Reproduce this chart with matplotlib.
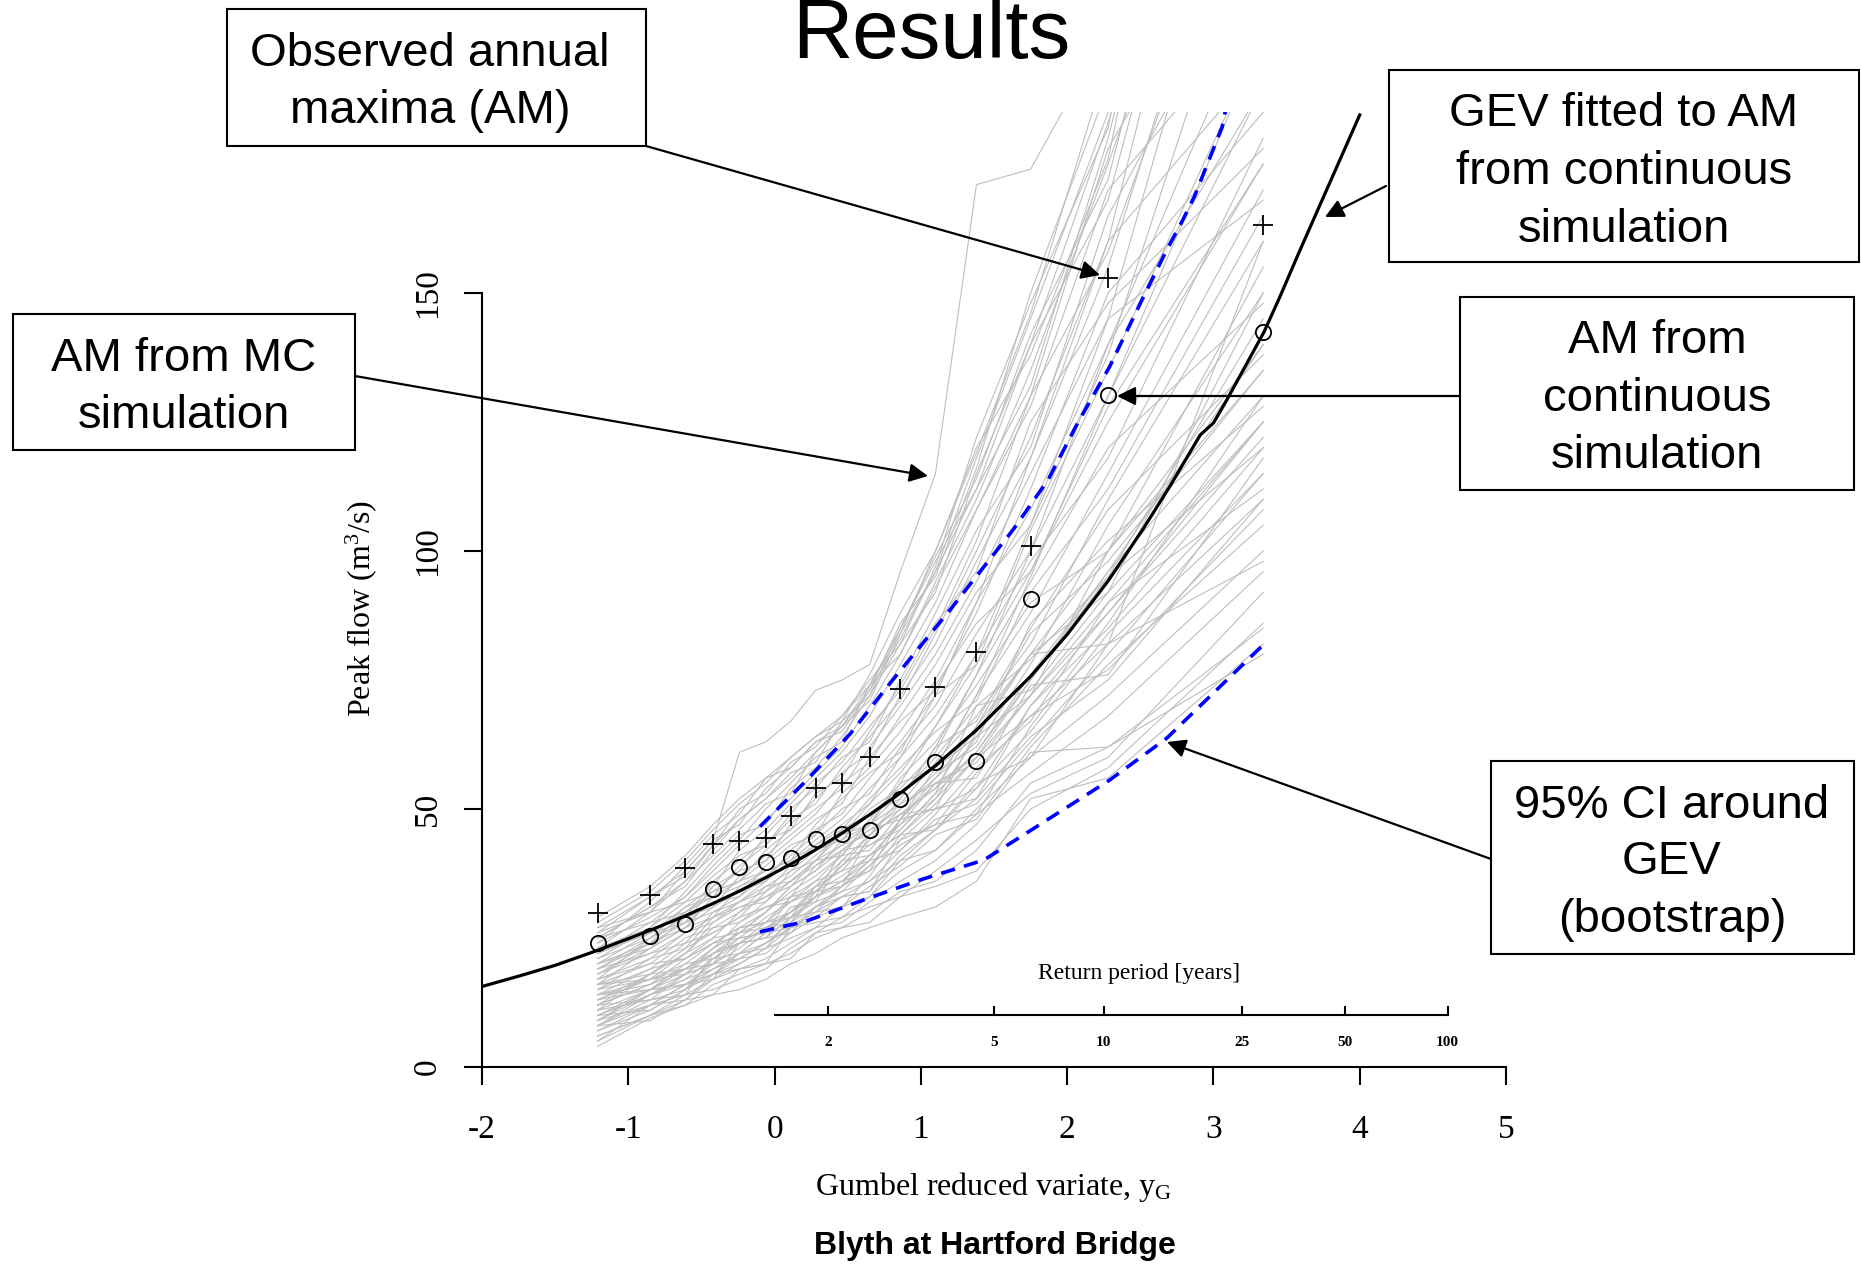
import numpy as np
import matplotlib.pyplot as plt
from matplotlib.patches import Rectangle

plt.rcParams['axes.unicode_minus'] = False

W, H = 1861, 1265

# Gumbel reduced variate of the 16 plotting positions
y_g = [-1.21, -0.85, -0.61, -0.42, -0.24, -0.06, 0.11, 0.28, 0.46, 0.65,
       0.86, 1.10, 1.38, 1.75, 2.28, 3.34]

# annual maxima (m3/s)
am_observed = [29.8, 33.3, 38.6, 43.2, 43.8, 44.3, 48.6, 54.1, 55.0, 60.0,
               73.3, 73.7, 80.5, 101.0, 153.0, 163.2]
am_continuous = [24.0, 25.3, 27.7, 34.4, 38.8, 39.8, 40.6, 44.2, 45.2, 45.9,
                 51.9, 59.2, 59.3, 90.7, 130.2, 142.4]

# GEV fitted to AM from continuous simulation
gev_x = [-2.0, -1.75, -1.5, -1.21, -0.85, -0.61, -0.42, -0.24, -0.06, 0.11,
         0.28, 0.46, 0.65, 0.86, 1.10, 1.38, 1.75, 2.00, 2.28, 2.52, 2.71,
         2.91, 3.00, 3.09, 3.345, 3.455, 3.584, 4.0]
gev_q = [15.6, 17.6, 19.7, 22.6, 26.5, 29.3, 31.7, 34.1, 36.7, 39.3,
         42.1, 45.3, 48.9, 53.1, 58.4, 65.3, 75.7, 83.8, 94.2, 104.3, 112.9,
         122.5, 124.8, 129.2, 142.4, 149.3, 157.8, 184.5]

# 95% bootstrap CI
ci_up_x = [-0.10, 0.22, 0.515, 0.79, 1.20, 1.36, 1.63, 1.87, 2.07, 2.29,
           2.50, 2.68, 2.79, 2.87, 3.06, 3.10]
ci_up = [46.6, 55.6, 64.5, 74.4, 88.6, 94.4, 104.1, 113.8, 124.7, 135.7,
         148.0, 158.3, 164.1, 168.7, 182.2, 188.0]
ci_lo_x = [-0.10, 0.21, 0.61, 1.00, 1.43, 1.77, 2.29, 2.68, 2.84, 3.34]
ci_lo = [26.2, 28.2, 32.4, 36.3, 40.1, 46.2, 55.6, 63.7, 68.1, 81.8]

# sorted AM of the MC simulation runs
mc_runs = [
    [4, 9.5, 12, 14, 15, 17, 20, 22, 25, 27, 29, 31, 36, 52, 56, 82],
    [5, 12, 13, 14, 19, 20, 21, 26, 27, 28, 33, 35, 38, 50, 58, 86],
    [6, 10, 12, 16, 18, 20, 22, 25, 27, 30, 34, 36, 42, 55, 62, 80],
    [7, 12, 14, 15, 17, 19, 23, 26, 29, 31, 33, 38, 44, 53, 60, 92],
    [5, 10, 14, 17, 19, 21, 24, 27, 28, 32, 36, 40, 47, 61, 62, 85],
    [8, 9, 13, 18, 19, 20, 27, 28, 29, 33, 40, 42, 49, 57, 68, 96],
    [8, 13, 15, 18, 20, 23, 25, 27, 31, 33, 38, 42, 50, 60, 72, 100],
    [9, 12, 16, 18, 21, 22, 26, 29, 31, 35, 39, 45, 48, 62, 78, 105],
    [9, 14, 17, 19, 22, 24, 27, 29, 33, 34, 41, 46, 52, 64, 75, 110],
    [10, 11, 15, 21, 22, 23, 29, 30, 31, 37, 45, 46, 55, 60, 82, 98],
    [10, 14, 18, 20, 21, 24, 28, 31, 34, 36, 42, 48, 51, 63, 80, 115],
    [11, 15, 16, 18, 22, 26, 27, 30, 35, 38, 43, 47, 57, 68, 77, 108],
    [8, 14, 17, 21, 24, 25, 29, 32, 34, 39, 44, 50, 54, 70, 85, 120],
    [11, 13, 18, 20, 23, 27, 30, 33, 36, 40, 42, 49, 58, 67, 90, 112],
    [9, 15, 19, 22, 25, 26, 28, 34, 37, 41, 45, 52, 60, 72, 88, 125],
    [12, 13, 14, 22, 24, 25, 31, 32, 40, 41, 47, 55, 56, 74, 76, 118],
    [12, 16, 19, 22, 24, 27, 29, 33, 35, 39, 46, 53, 61, 76, 96, 130],
    [13, 15, 18, 23, 26, 28, 30, 35, 38, 40, 48, 55, 59, 72, 100, 140],
    [13, 17, 20, 21, 25, 29, 32, 34, 39, 43, 47, 52, 64, 80, 92, 125],
    [14, 16, 21, 24, 27, 28, 33, 36, 38, 44, 50, 57, 62, 78, 105, 150],
    [12, 18, 22, 25, 26, 30, 34, 37, 41, 42, 49, 54, 66, 84, 98, 135],
    [14, 17, 19, 23, 28, 31, 32, 35, 40, 45, 51, 59, 68, 82, 110, 160],
    [15, 19, 21, 24, 27, 30, 35, 38, 42, 46, 48, 56, 63, 86, 102, 128],
    [13, 18, 23, 26, 29, 31, 33, 39, 43, 47, 53, 60, 70, 79, 95, 145],
    [15, 17, 22, 27, 28, 32, 36, 40, 41, 48, 55, 58, 72, 88, 115, 170],
    [16, 20, 21, 25, 30, 33, 35, 38, 44, 49, 52, 62, 67, 85, 108, 138],
    [14, 19, 24, 26, 29, 34, 37, 41, 45, 47, 56, 63, 74, 90, 100, 155],
    [16, 18, 22, 28, 31, 32, 38, 42, 44, 50, 54, 61, 76, 94, 120, 148],
    [17, 20, 25, 27, 30, 35, 36, 40, 46, 52, 58, 65, 71, 92, 112, 165],
    [15, 21, 23, 29, 32, 34, 39, 43, 47, 51, 57, 66, 78, 96, 125, 175],
    [17, 21, 26, 28, 32, 36, 40, 44, 48, 54, 60, 68, 80, 98, 118, 180],
    [18, 22, 24, 30, 33, 37, 41, 45, 50, 53, 62, 70, 84, 100, 130, 190],
    [16, 23, 27, 31, 34, 36, 42, 46, 49, 56, 63, 72, 78, 104, 135, 200],
    [19, 22, 26, 29, 35, 38, 40, 47, 52, 57, 61, 74, 86, 96, 128, 175],
    [18, 24, 28, 32, 33, 39, 43, 45, 53, 58, 65, 75, 90, 108, 140, 210],
    [20, 23, 27, 33, 36, 40, 44, 48, 51, 60, 67, 73, 88, 112, 150, 185],
    [17, 25, 29, 31, 37, 41, 45, 49, 55, 59, 68, 78, 92, 105, 138, 230],
    [19, 24, 30, 34, 36, 42, 46, 50, 54, 62, 70, 80, 94, 115, 145, 168],
    [21, 25, 28, 35, 38, 40, 47, 52, 57, 61, 72, 82, 98, 118, 155, 250],
    [20, 26, 31, 33, 39, 43, 48, 51, 58, 64, 71, 84, 100, 122, 160, 195],
    [18, 23, 29, 36, 40, 44, 46, 53, 56, 65, 74, 86, 96, 125, 148, 178],
    [22, 26, 30, 34, 38, 45, 50, 54, 60, 63, 75, 88, 104, 120, 165, 220],
    [21, 27, 32, 37, 41, 43, 49, 55, 59, 66, 73, 85, 102, 130, 158, 240],
    [19, 25, 31, 35, 42, 46, 51, 56, 61, 68, 78, 90, 108, 128, 170, 205],
    [22, 28, 33, 38, 43, 48, 52, 57, 62, 70, 80, 94, 110, 135, 175, 260],
    [23, 27, 34, 40, 45, 47, 54, 58, 64, 72, 82, 92, 115, 140, 168, 280],
    [24, 29, 33, 39, 44, 50, 55, 60, 63, 74, 85, 98, 112, 132, 180, 300],
    [23, 30, 36, 41, 46, 51, 53, 61, 66, 71, 84, 96, 118, 145, 185, 270],
    [25, 31, 35, 42, 48, 52, 57, 59, 67, 76, 88, 100, 120, 138, 176, 320],
    [26, 30, 38, 44, 47, 54, 58, 63, 65, 73, 86, 95, 116, 150, 190, 250],
    [27, 33, 37, 43, 50, 53, 59, 62, 68, 75, 82, 97, 122, 148, 182, 340],
    [28, 34, 40, 46, 51, 55, 60, 64, 67, 72, 85, 99, 114, 142, 172, 290],
    [24, 32, 39, 45, 49, 56, 58, 63, 66, 74, 80, 93, 108, 130, 178, 230],
    [29, 35, 41, 47, 52, 56, 60, 64, 68, 74, 84, 100, 119, 146, 195, 360],
    [26, 33, 38, 44, 61, 63, 67, 73, 75, 78, 96, 115, 171, 174, 201, 300],
    [25, 31, 36, 43, 48, 52, 56, 61, 66, 73, 83, 96, 112, 140, 183, 275],
    [6, 10, 13, 17, 20, 23, 27, 31, 35, 40, 48, 58, 72, 95, 130, 200],
    [8, 12, 16, 20, 24, 28, 32, 36, 41, 47, 55, 66, 80, 105, 145, 250],
    [10, 15, 19, 23, 26, 30, 35, 40, 45, 51, 60, 72, 90, 118, 160, 280],
    [25, 28, 30, 33, 35, 37, 39, 42, 44, 47, 51, 55, 60, 68, 82, 110],
    [27, 30, 32, 34, 36, 38, 40, 43, 46, 49, 53, 58, 64, 72, 90, 125],
    [22, 26, 28, 30, 32, 35, 38, 40, 43, 45, 49, 54, 61, 75, 95, 120],
    [7, 11, 15, 19, 22, 26, 30, 34, 39, 45, 52, 62, 76, 100, 140, 190],
    [20, 24, 27, 29, 31, 33, 36, 39, 42, 46, 50, 56, 66, 80, 100, 135],
    [10, 14, 16, 19, 21, 24, 27, 30, 33, 36, 40, 46, 54, 65, 84, 115],
    [12, 16, 19, 22, 24, 27, 30, 33, 36, 41, 45, 51, 60, 75, 96, 140],
    [14, 15, 20, 24, 25, 26, 33, 34, 35, 45, 49, 50, 65, 80, 82, 160],
    [11, 18, 19, 20, 27, 28, 29, 35, 36, 38, 48, 50, 52, 70, 88, 122],
    [16, 17, 18, 22, 26, 27, 28, 33, 42, 43, 46, 53, 70, 73, 92, 150],
    [9, 15, 16, 17, 24, 25, 26, 31, 33, 34, 44, 47, 49, 66, 86, 130],
]

return_periods = [2, 5, 10, 25, 50, 100]

serif = 'Liberation Serif'
sans = 'Liberation Sans'

fig = plt.figure(figsize=(W / 100, H / 100), dpi=100)
ax = fig.add_axes([482 / W, 1 - 1067 / H, 1024 / W, 954.6 / H])

for run in mc_runs:
    ax.plot(y_g, run, color='#BEBEBE', lw=0.8, zorder=1)

ax.plot(ci_up_x, ci_up, color='#0000FF', lw=2.6, dashes=(4, 2.6), zorder=2)
ax.plot(ci_lo_x, ci_lo, color='#0000FF', lw=2.6, dashes=(4, 2.6), zorder=2)
ax.plot(gev_x, gev_q, color='black', lw=2.3, zorder=3)
ax.plot(y_g, am_continuous, 'o', mfc='none', mec='black', ms=11, mew=1.3, zorder=4)
ax.plot(y_g, am_observed, '+', color='black', ms=14, mew=1.3, zorder=4)

ax.set_xlim(-2, 5)
ax.set_ylim(0, 185)
ax.spines['top'].set_visible(False)
ax.spines['right'].set_visible(False)
ax.spines['left'].set_bounds(0, 150)
ax.spines['bottom'].set_bounds(-2, 5)
for s in ['left', 'bottom']:
    ax.spines[s].set_linewidth(1.5)
ax.set_xticks(range(-2, 6))
ax.set_yticks([0, 50, 100, 150])
ax.tick_params(length=13, width=1.5, labelsize=24)
ax.tick_params(axis='x', pad=21)
ax.tick_params(axis='y', pad=15)
for lab in ax.get_xticklabels() + ax.get_yticklabels():
    lab.set_family(serif)
for lab in ax.get_yticklabels():
    lab.set_rotation(90)
    lab.set_va('center')

ax.set_xlabel(r'Gumbel reduced variate, $\mathregular{y_G}$', family=serif, fontsize=23, labelpad=18)
ax.set_ylabel(r'Peak flow (m$\mathregular{^3}$/s)', family=serif, fontsize=23, labelpad=24)
ax.yaxis.label.set_y(0.48)

# return period scale inside the plot
rp_pos = -np.log(-np.log(1 - 1 / np.array(return_periods, dtype=float)))
ax.plot([0, rp_pos[-1]], [10, 10], color='black', lw=1.5, zorder=5)
for p, t in zip(rp_pos, return_periods):
    ax.plot([p, p], [10, 11.6], color='black', lw=1.5, zorder=5)
    ax.text(p, 4.8, str(t), ha='center', va='center', family=serif,
            fontsize=11, fontweight='bold')
ax.text(2.49, 18.2, 'Return period [years]', ha='center', va='center',
        family=serif, fontsize=17)

fig.text(994.6 / W, 1 - 1246 / H, 'Blyth at Hartford Bridge', ha='center', va='center',
         family=sans, fontsize=23, fontweight='bold')
fig.text(931.7 / W, 1 - 58 / H, 'Results', ha='center', va='baseline',
         family=sans, fontsize=60)

# annotation boxes: (x0, y0, x1, y1) in pixels from top-left, text lines, line y centres
boxes = [
    ((227, 9.5, 646, 146), ['Observed annual', 'maxima (AM)'], 430, [54, 111]),
    ((13, 314.5, 355, 450), ['AM from MC', 'simulation'], 184, [359, 416]),
    ((1389, 70, 1859, 262), ['GEV fitted to AM', 'from continuous', 'simulation'], 1624, [114, 172.5, 229.5]),
    ((1460, 297, 1854, 490), ['AM from', 'continuous', 'simulation'], 1657, [341, 399, 456]),
    ((1491, 761, 1854, 954), ['95% CI around', 'GEV', '(bootstrap)'], 1672, [806, 862, 920]),
]
for (x0, y0, x1, y1), lines, cx, ys in boxes:
    fig.add_artist(Rectangle((x0 / W, 1 - y1 / H), (x1 - x0) / W, (y1 - y0) / H,
                             transform=fig.transFigure, fill=False, lw=1.5, ec='black'))
    for line, cy in zip(lines, ys):
        fig.text(cx / W, 1 - cy / H, line, ha='center', va='center', family=sans, fontsize=34)

arrows = [
    ((646, 146), (1100, 275)),
    ((355, 376), (928, 476)),
    ((1386, 186), (1325, 217)),
    ((1460, 396), (1117, 396)),
    ((1491, 859), (1167, 742)),
]
for (sx, sy), (tx, ty) in arrows:
    fig.add_artist(plt.Annotation('', xy=(tx, H - ty), xytext=(sx, H - sy),
                                  xycoords='figure pixels', textcoords='figure pixels',
                                  arrowprops=dict(arrowstyle='-|>', color='black', lw=1.6,
                                                  mutation_scale=28, shrinkA=0, shrinkB=0)))

fig.savefig('out.png', dpi=100)
